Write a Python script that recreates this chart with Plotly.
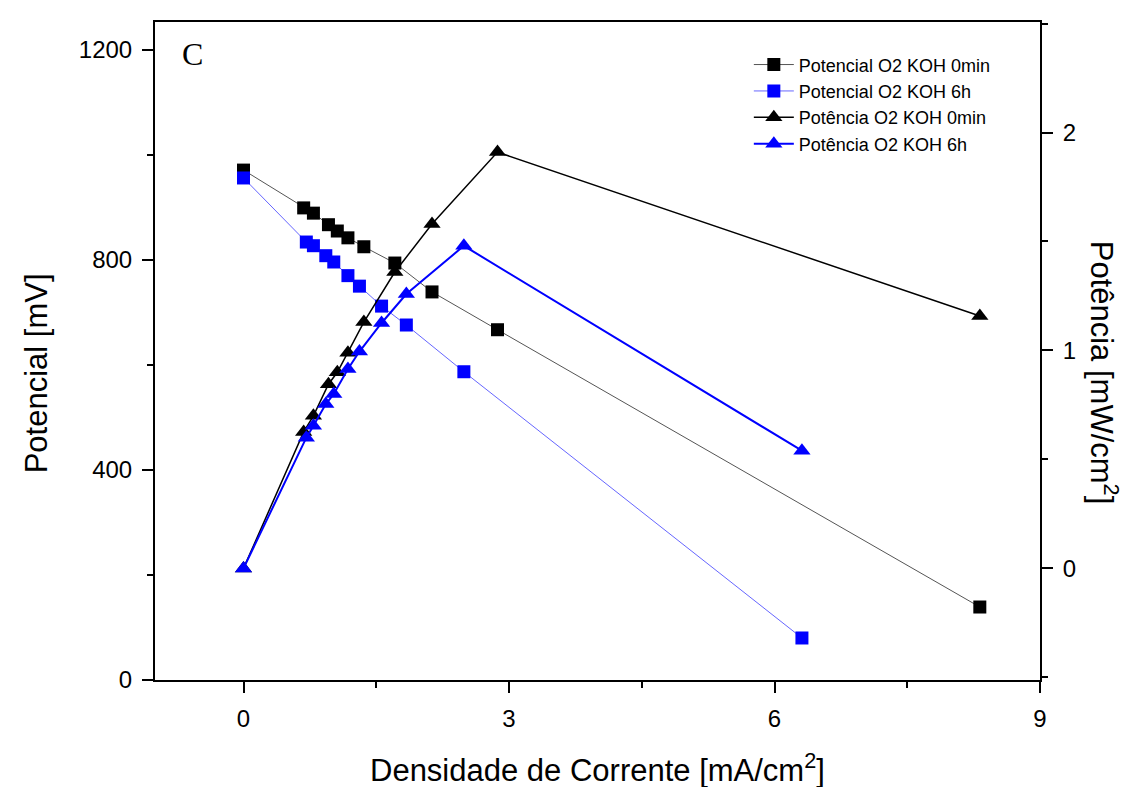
import plotly.graph_objects as go

# Current density [mA/cm2]
corrente_0min = [0.0, 0.68, 0.79, 0.96, 1.06, 1.18, 1.36, 1.71, 2.13, 2.87, 8.32]
corrente_6h = [0.0, 0.71, 0.79, 0.93, 1.02, 1.18, 1.31, 1.56, 1.84, 2.49, 6.31]

# Cell potential [mV]
potencial_0min = [971, 899, 889, 867, 855, 842, 825, 794, 739, 667, 139]
potencial_6h = [956, 834, 827, 808, 796, 770, 750, 712, 676, 587, 80]

# Power density [mW/cm2]
potencia_0min = [0.0, 0.626, 0.70, 0.845, 0.90, 0.99, 1.13, 1.36, 1.58, 1.91, 1.158]
potencia_6h = [0.0, 0.60, 0.655, 0.754, 0.80, 0.915, 0.995, 1.126, 1.259, 1.48, 0.54]

x_ticks = [0, 3, 6, 9]
y_ticks = [0, 400, 800, 1200]
y2_ticks = [0, 1, 2]

BLUE = "#0000ff"
FONT = "Liberation Sans, Arial, sans-serif"

fig = go.Figure()

fig.add_trace(go.Scatter(
    x=corrente_0min, y=potencial_0min, name="Potencial O2 KOH 0min",
    mode="lines+markers",
    line=dict(color="#555555", width=1),
    marker=dict(symbol="square", size=13, color="black"),
))
fig.add_trace(go.Scatter(
    x=corrente_6h, y=potencial_6h, name="Potencial O2 KOH 6h",
    mode="lines+markers",
    line=dict(color="#6666ff", width=1),
    marker=dict(symbol="square", size=13, color=BLUE),
))
fig.add_trace(go.Scatter(
    x=corrente_0min, y=potencia_0min, name="Potência O2 KOH 0min",
    mode="lines+markers", yaxis="y2",
    line=dict(color="black", width=1.5),
    marker=dict(symbol="triangle-up", size=15, color="black"),
))
fig.add_trace(go.Scatter(
    x=corrente_6h, y=potencia_6h, name="Potência O2 KOH 6h",
    mode="lines+markers", yaxis="y2",
    line=dict(color=BLUE, width=2),
    marker=dict(symbol="triangle-up", size=15, color=BLUE),
))


def axis_style():
    return dict(
        showline=True, linecolor="black", linewidth=2,
        ticks="outside", ticklen=11, tickwidth=1.5, tickcolor="black",
        showgrid=False, zeroline=False, ticklabelstandoff=5, automargin=False,
        tickfont=dict(family=FONT, size=24, color="black"),
    )


title_font = dict(family=FONT, size=31, color="black")

fig.update_layout(
    width=1129, height=787,
    margin=dict(l=155, r=89, t=22, b=107),
    paper_bgcolor="white", plot_bgcolor="white",
    font=dict(family=FONT, color="black"),
    xaxis=dict(
        **axis_style(),
        range=[-1, 9], tickvals=x_ticks, mirror=True,
        minor=dict(dtick=1.5, tick0=0, ticklen=6, tickwidth=1.5, tickcolor="black", ticks="outside"),
    ),
    yaxis=dict(
        **axis_style(),
        range=[0, 1253], tickvals=y_ticks,
        minor=dict(dtick=200, tick0=0, ticklen=6, tickwidth=1.5, tickcolor="black", ticks="outside"),
    ),
    yaxis2=dict(
        **axis_style(),
        overlaying="y", side="right",
        range=[-0.512, 2.507], tickvals=y2_ticks,
        minor=dict(dtick=0.5, tick0=0, ticklen=6, tickwidth=1.5, tickcolor="black", ticks="outside"),
    ),
    legend=dict(
        x=0.671, y=0.963, xanchor="left", yanchor="top",
        bgcolor="rgba(0,0,0,0)",
        font=dict(family=FONT, size=18, color="black"),
        tracegroupgap=0, itemwidth=40,
    ),
    annotations=[
        dict(text="C", xref="paper", yref="paper", x=0.042, y=0.951,
             xanchor="center", yanchor="middle", showarrow=False,
             font=dict(family="Liberation Serif, Times New Roman, serif", size=32, color="black")),
        dict(text="Densidade de Corrente [mA/cm<sup>2</sup>]", xref="paper", yref="paper",
             x=0.5, y=0.0, yshift=-88, xanchor="center", yanchor="middle",
             showarrow=False, font=title_font),
        dict(text="Potencial [mV]", xref="paper", yref="paper",
             x=0.0, xshift=-119, y=0.466, xanchor="center", yanchor="middle",
             textangle=-90, showarrow=False, font=title_font),
        dict(text="Potência [mW/cm<sup>2</sup>]", xref="paper", yref="paper",
             x=1.0, xshift=64, y=0.467, xanchor="center", yanchor="middle",
             textangle=90, showarrow=False, font=title_font),
    ],
)

fig.write_html("out.html")
